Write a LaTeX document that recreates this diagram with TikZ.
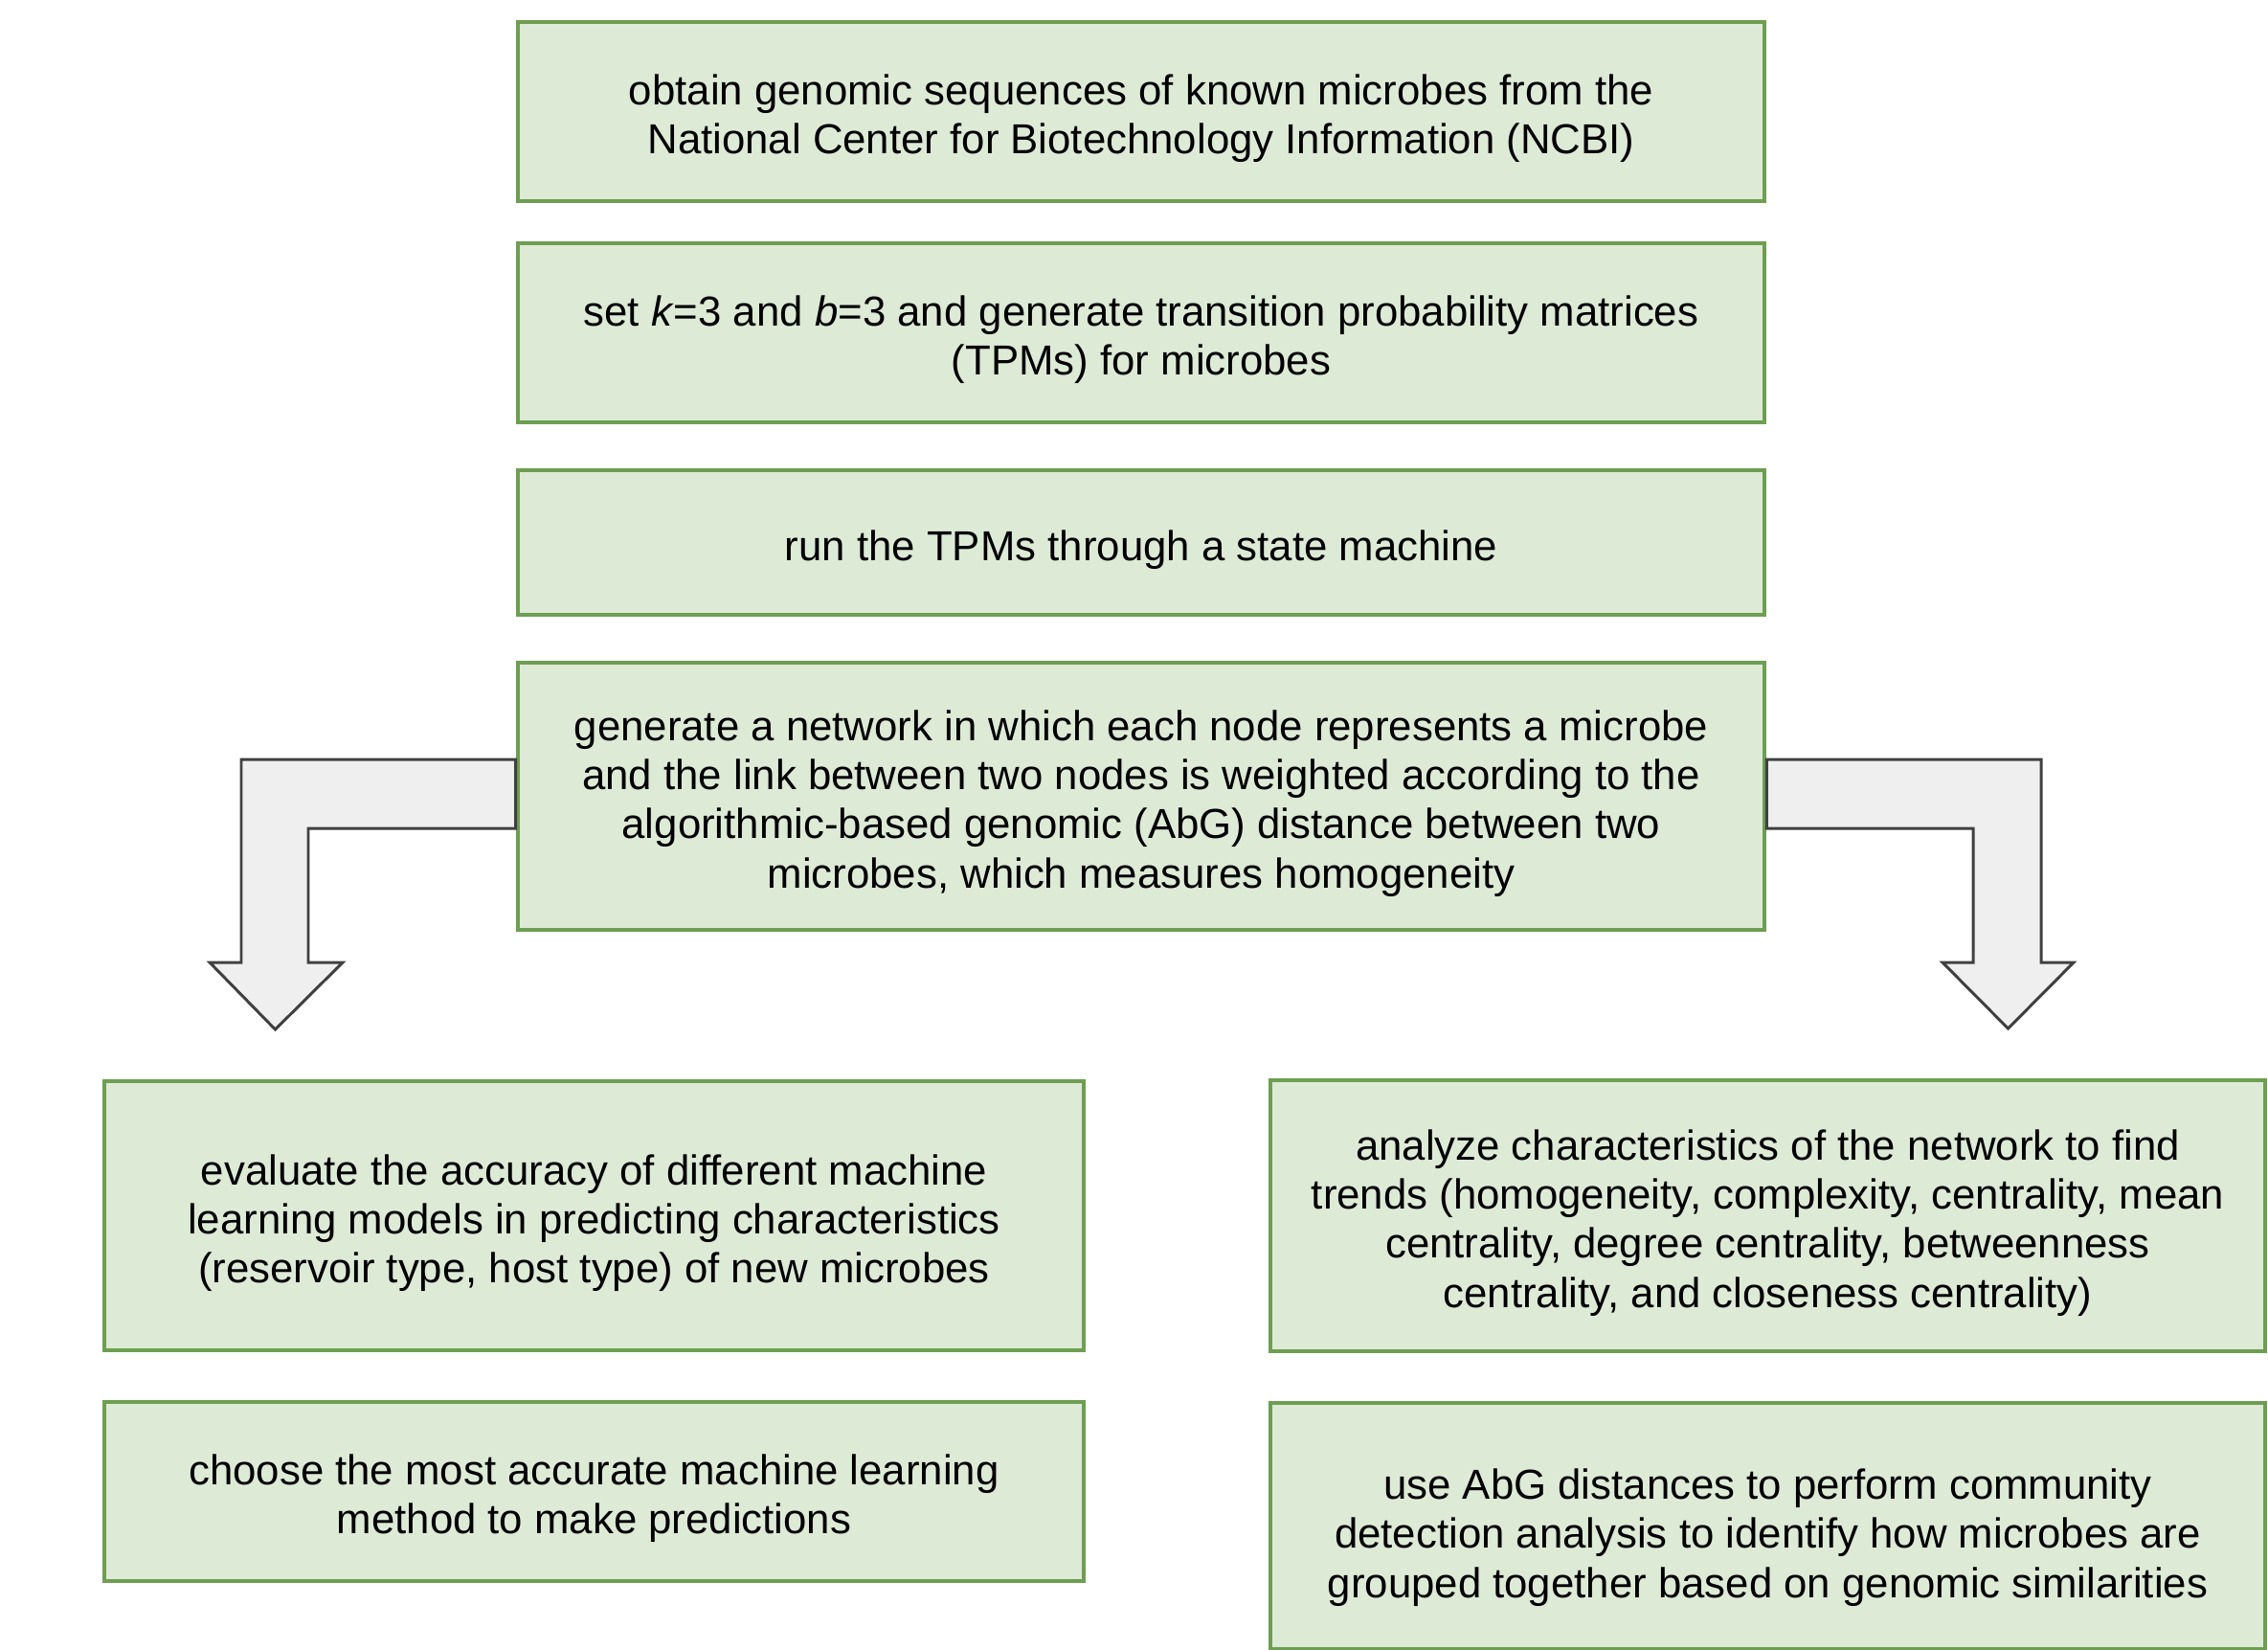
\documentclass[tikz,border=0pt]{standalone}
\usepackage{fontspec}
\setmainfont{Liberation Sans}
\usetikzlibrary{calc}
\definecolor{boxfill}{RGB}{221,234,214}
\definecolor{boxline}{RGB}{110,158,82}
\definecolor{arrowfill}{RGB}{239,239,239}
\definecolor{arrowline}{RGB}{64,64,64}
\tikzset{
  stepbox/.style={draw=boxline, fill=boxfill, line width=1.4pt, rectangle, inner sep=0pt},
  steptext/.style={align=center, inner sep=0pt, font=\fontsize{12.45}{14.6}\selectfont},
  bentarrow/.style={draw=arrowline, fill=arrowfill, line width=0.85pt, line join=miter}
}
\begin{document}
\begin{tikzpicture}[x=1cm,y=1cm]
\useasboundingbox (0,0) rectangle (23.69,-17.23);
\fill[white] (0,0) rectangle (23.69,-17.23);

\node[stepbox, minimum width=13.02cm, minimum height=1.87cm] (b1) at (11.92,-1.165) {};
\node[steptext] (b1t) at ($(b1.center)+(0,-0.075)$)
  {obtain genomic sequences of known microbes from the\\National Center for Biotechnology Information (NCBI)};
\node[stepbox, minimum width=13.02cm, minimum height=1.87cm] (b2) at (11.92,-3.475) {};
\node[steptext] (b2t) at ($(b2.center)+(0,-0.075)$)
  {set \textit{k}=3 and \textit{b}=3 and generate transition probability matrices\\(TPMs) for microbes};
\node[stepbox, minimum width=13.02cm, minimum height=1.51cm] (b3) at (11.92,-5.665) {};
\node[steptext] (b3t) at ($(b3.center)+(0,-0.075)$)
  {run the TPMs through a state machine};
\node[stepbox, minimum width=13.02cm, minimum height=2.79cm] (b4) at (11.92,-8.315) {};
\node[steptext] (b4t) at ($(b4.center)+(0,-0.075)$)
  {generate a network in which each node represents a microbe\\and the link between two nodes is weighted according to the\\algorithmic-based genomic (AbG) distance between two\\microbes, which measures homogeneity};

\node[stepbox, minimum width=10.23cm, minimum height=2.81cm] (l1) at (6.205,-12.695) {};
\node[steptext] (l1t) at ($(l1.center)+(0,-0.075)$)
  {evaluate the accuracy of different machine\\learning models in predicting characteristics\\(reservoir type, host type) of new microbes};
\node[stepbox, minimum width=10.23cm, minimum height=1.87cm] (l2) at (6.205,-15.575) {};
\node[steptext] (l2t) at ($(l2.center)+(0,-0.075)$)
  {choose the most accurate machine learning\\method to make predictions};

\node[stepbox, minimum width=10.39cm, minimum height=2.83cm] (r1) at (18.465,-12.695) {};
\node[steptext] (r1t) at ($(r1.center)+(0,-0.075)$)
  {analyze characteristics of the network to find\\trends (homogeneity, complexity, centrality, mean\\centrality, degree centrality, betweenness\\centrality, and closeness centrality)};
\node[stepbox, minimum width=10.39cm, minimum height=2.57cm] (r2) at (18.465,-15.935) {};
\node[steptext] (r2t) at ($(r2.center)+(0,-0.12)$)
  {use AbG distances to perform community\\detection analysis to identify how microbes are\\grouped together based on genomic similarities};

% left bent arrow
\coordinate (la1) at ($(b4.west |- 0,-7.93)$);
\coordinate (la2) at ($(b4.west |- 0,-8.65)$);
\draw[bentarrow] (la1) -- (2.52,-7.93) -- (2.52,-10.05) -- (2.19,-10.05)
  -- (2.875,-10.75) -- (3.58,-10.05) -- (3.22,-10.05) -- (3.22,-8.65) -- (la2) -- cycle;

% right bent arrow
\coordinate (ra1) at ($(b4.east |- 0,-7.93)$);
\coordinate (ra2) at ($(b4.east |- 0,-8.65)$);
\draw[bentarrow] (ra1) -- (21.32,-7.93) -- (21.32,-10.05) -- (21.66,-10.05)
  -- (20.975,-10.74) -- (20.29,-10.05) -- (20.61,-10.05) -- (20.61,-8.65) -- (ra2) -- cycle;
\end{tikzpicture}
\end{document}
